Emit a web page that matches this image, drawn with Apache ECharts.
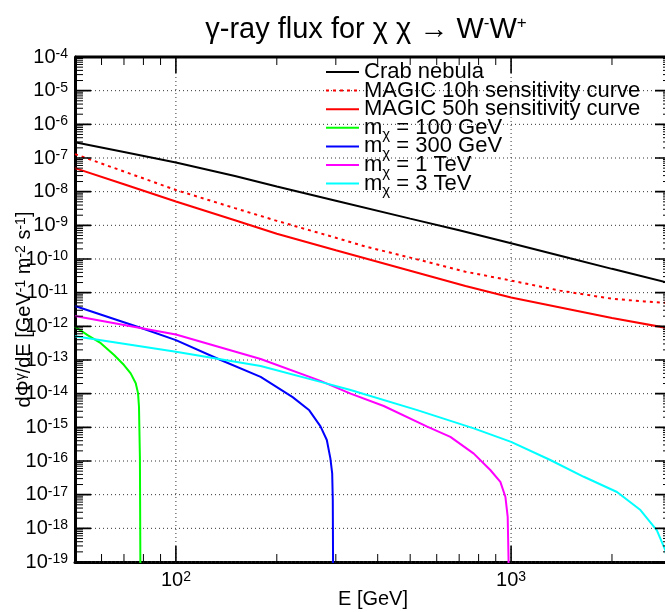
<!DOCTYPE html>
<html>
<head>
<meta charset="utf-8">
<script src="https://cdn.jsdelivr.net/npm/echarts@6/dist/echarts.min.js"></script>
<style>
html,body{margin:0;padding:0;background:#fff;}
#chart{width:665px;height:612px;}
</style>
</head>
<body>
<div id="chart"></div>
<script>
// ---------------- data ----------------
const titleText = 'γ-ray flux for χ χ → W';
const xName = 'E [GeV]';
const seriesNames = ['Crab nebula', 'MAGIC 10h sensitivity curve', 'MAGIC 50h sensitivity curve',
  'm_χ = 100 GeV', 'm_χ = 300 GeV', 'm_χ = 1 TeV', 'm_χ = 3 TeV'];
const seriesColors = ['#000000', '#ff0000', '#ff0000', '#00ff00', '#0000ff', '#ff00ff', '#00ffff'];

const xMin = 50, xMax = 3000;
const yMinExp = -19, yMaxExp = -4;
const xMajorTicks = [100, 1000];
const xMinorTicks = [60, 70, 80, 90, 200, 300, 400, 500, 600, 700, 800, 900, 2000, 3000];

// Crab nebula
const crabE = [50, 70, 100, 150, 200, 300, 500, 700, 1000, 1500, 2000, 3000];
const crabF = [2.95e-7, 1.51e-7, 7.4e-8, 2.92e-8, 1.43e-8, 5.4e-9, 1.58e-9, 7.1e-10, 2.95e-10, 1.05e-10, 5.1e-11, 1.86e-11];
// MAGIC 10h
const magic10E = [50, 70, 100, 150, 200, 300, 368, 500, 731, 1000, 1400, 2000, 2500, 3000];
const magic10F = [1.30e-7, 3.98e-8, 1.12e-8, 3.24e-9, 1.36e-9, 4.27e-10, 2.34e-10, 1.10e-10, 4.2e-11, 2.29e-11, 1.15e-11, 6.6e-12, 5.5e-12, 4.9e-12];
// MAGIC 50h
const magic50E = [50, 70, 100, 150, 200, 300, 500, 731, 1000, 2000, 3000];
const magic50F = [5.0e-8, 1.66e-8, 5.1e-9, 1.41e-9, 5.6e-10, 1.82e-10, 4.5e-11, 1.58e-11, 7.2e-12, 1.78e-12, 8.5e-13];
// m = 100 GeV
const m100E = [50, 54.5, 59.7, 65.4, 70, 73.3, 75.9, 77.1, 77.6, 78.1, 78.5];
const m100F = [9.8e-13, 5.5e-13, 3.16e-13, 1.41e-13, 7.1e-14, 4.0e-14, 2.04e-14, 1.02e-14, 4.1e-15, 1.26e-16, 1e-21];
// m = 300 GeV
const m300E = [50, 80, 100, 136, 179, 223, 250, 270, 282, 289, 292.6, 293.8, 295];
const m300F = [4.03e-12, 8.5e-13, 3.9e-13, 1.0e-13, 3.16e-14, 7.9e-15, 3.2e-15, 1.07e-15, 4.2e-16, 1.2e-16, 4.3e-17, 6.9e-18, 1e-21];
// m = 1 TeV
const m1000E = [50, 100, 179, 270, 332, 417, 562, 659, 774, 867, 929, 962, 977, 992];
const m1000F = [2.04e-12, 5.75e-13, 1.07e-13, 2.4e-14, 1.0e-14, 4.3e-15, 1.05e-15, 5.2e-16, 1.66e-16, 5.4e-17, 2.4e-17, 8.5e-18, 2.2e-18, 1e-21];
// m = 3 TeV
const m3000E = [50, 100, 179, 270, 332, 525, 774, 1000, 1309, 1648, 2070, 2432, 2723, 2884, 2960, 3000];
const m3000F = [5.1e-13, 1.76e-13, 6.6e-14, 2.24e-14, 1.29e-14, 3.24e-15, 9.3e-16, 3.7e-16, 1.07e-16, 3.4e-17, 1.2e-17, 3.5e-18, 8.7e-19, 2.24e-19, 5e-20, 1e-21];

const seriesE = [crabE, magic10E, magic50E, m100E, m300E, m1000E, m3000E];
const seriesF = [crabF, magic10F, magic50F, m100F, m300F, m1000F, m3000F];

// ---------------- build ----------------
const FONT = 'Liberation Sans, Arial, Helvetica, sans-serif';
const yMajorTicks = [];
const yMinorTicks = [];
for (let k = yMinExp; k <= yMaxExp; k++) {
  yMajorTicks.push(Number('1e' + k));
  if (k < yMaxExp) for (let m = 2; m <= 9; m++) yMinorTicks.push(Number(m + 'e' + k));
}
const yMin = Number('1e' + yMinExp), yMax = Number('1e' + yMaxExp);

const powRich = {
  b: { fontSize: 20, lineHeight: 20, verticalAlign: 'bottom', fontFamily: FONT, color: '#000' },
  e: { fontSize: 14, lineHeight: 14, verticalAlign: 'top', padding: [0, 0, 13, 0], fontFamily: FONT, color: '#000' }
};
function powFormatter(v) {
  const ex = Math.round(Math.log10(v));
  return '{b|10}{e|' + ex + '}';
}
const nameRich = {
  n: { fontSize: 20, lineHeight: 20, verticalAlign: 'bottom', fontFamily: FONT, color: '#000' },
  s: { fontSize: 14, lineHeight: 14, verticalAlign: 'top', padding: [0, 0, 11, 0], fontFamily: FONT, color: '#000' }
};

const series = seriesNames.map((name, i) => ({
  name: name,
  type: 'line',
  data: seriesE[i].map((e, j) => [e, seriesF[i][j]]),
  symbol: 'none',
  color: seriesColors[i],
  lineStyle: { color: seriesColors[i], width: 2, type: i === 1 ? [3, 4] : 'solid' },
  z: 3
}));

const option = {
  animation: false,
  backgroundColor: '#ffffff',
  title: {
    text: '{t|' + titleText + '}{s|-}{t|W}{s|+}',
    left: 366, textAlign: 'center', top: 15, padding: 0,
    textStyle: {
      fontSize: 29, fontFamily: FONT, color: '#000', fontWeight: 'normal',
      rich: {
        t: { fontSize: 29, lineHeight: 29, verticalAlign: 'bottom', fontFamily: FONT, color: '#000' },
        s: { fontSize: 17, lineHeight: 17, verticalAlign: 'top', fontFamily: FONT, color: '#000' }
      }
    }
  },
  legend: {
    data: seriesNames,
    orient: 'vertical',
    left: 325, top: 57, padding: 0,
    itemWidth: 33, itemHeight: 14, itemGap: -11.4,
    selectedMode: false,
    itemStyle: { opacity: 0 },
    formatter: function (name) {
      if (name.indexOf('m_χ') === 0) return '{t|m}{s|χ}{t|' + name.slice(3) + '}';
      return '{t|' + name + '}';
    },
    textStyle: {
      fontSize: 22, fontFamily: FONT, color: '#000', lineHeight: 30,
      rich: {
        t: { fontSize: 22, lineHeight: 30, fontFamily: FONT, color: '#000' },
        s: { fontSize: 15, lineHeight: 15, verticalAlign: 'bottom', fontFamily: FONT, color: '#000' }
      }
    }
  },
  grid: { show: false, left: 75, right: -6, top: 57, bottom: 50, outerBoundsMode: 'none' },
  xAxis: {
    type: 'log', logBase: 10, min: xMin, max: xMax, position: 'bottom',
    axisLine: { show: true, onZero: false, lineStyle: { color: '#000', width: 3 } },
    axisTick: { show: false },
    axisLabel: { show: true, customValues: xMajorTicks, formatter: powFormatter, rich: powRich, margin: 8 },
    splitLine: { show: false },
    name: xName, nameLocation: 'middle', nameGap: 27, nameMoveOverlap: false,
    nameTextStyle: { fontSize: 20, fontFamily: FONT, color: '#000' }
  },
  yAxis: {
    type: 'log', logBase: 10, min: yMin, max: yMax, position: 'left',
    axisLine: { show: true, onZero: false, lineStyle: { color: '#000', width: 3 } },
    axisTick: { show: false },
    axisLabel: { show: true, customValues: yMajorTicks, formatter: powFormatter, rich: powRich, margin: 7 },
    splitLine: { show: false },
    name: '{n|dΦ}{s|γ}{n|/dE [GeV}{s|-1}{n| m}{s|-2}{n| s}{s|-1}{n|]}',
    nameLocation: 'middle', nameGap: 41, nameMoveOverlap: false,
    nameTextStyle: { fontSize: 20, fontFamily: FONT, color: '#000', rich: nameRich }
  },
  series: series
};

// frame, tick marks and dotted grid lines as segment series, with tick lengths
// converted to data space through the chart's own log axes
function frameSeries(chart) {
  const P = (x, y) => chart.convertToPixel({ gridIndex: 0 }, [x, y]);
  const D = (px, py) => chart.convertFromPixel({ gridIndex: 0 }, [px, py]);
  const grid = [], major = [], minor = [];
  const gap = [NaN, NaN];
  function seg(arr, a, b) { arr.push(a, b, gap); }
  xMajorTicks.concat(xMinorTicks).forEach((v, i) => {
    const isMaj = i < xMajorTicks.length, len = isMaj ? 16 : 8, arr = isMaj ? major : minor;
    const pb = P(v, yMin), pt = P(v, yMax);
    if (isMaj) seg(grid, [v, yMin], [v, yMax]);
    seg(arr, [v, yMin], [v, D(pb[0], pb[1] - len)[1]]);
    seg(arr, [v, yMax], [v, D(pt[0], pt[1] + len)[1]]);
  });
  yMajorTicks.concat(yMinorTicks).forEach((v, i) => {
    const isMaj = i < yMajorTicks.length, len = isMaj ? 16 : 8, arr = isMaj ? major : minor;
    const pl = P(xMin, v), pr = P(xMax, v);
    if (isMaj) seg(grid, [xMin, v], [xMax, v]);
    seg(arr, [xMin, v], [D(pl[0] + len, pl[1])[0], v]);
    seg(arr, [xMax, v], [D(pr[0] - len, pr[1])[0], v]);
  });
  const base = { type: 'line', symbol: 'none', connectNulls: false, clip: false, silent: true, animation: false };
  return [
    Object.assign({}, base, { name: '_grid', data: grid, z: 1, lineStyle: { color: '#333', width: 1, type: [1, 3] } }),
    Object.assign({}, base, { name: '_major', data: major, z: 4, lineStyle: { color: '#000', width: 1.6 } }),
    Object.assign({}, base, { name: '_minor', data: minor, z: 4, lineStyle: { color: '#000', width: 1 } }),
    Object.assign({}, base, { name: '_frame', data: [[xMin, yMax], [xMax, yMax], [xMax, yMin]], z: 4, lineStyle: { color: '#000', width: 3 } })
  ];
}

const chart = echarts.init(document.getElementById('chart'));
chart.setOption(option);
try {
  chart.setOption({ series: series.concat(frameSeries(chart)) });
} catch (e) { /* keep the chart without decorations */ }
</script>
</body>
</html>
